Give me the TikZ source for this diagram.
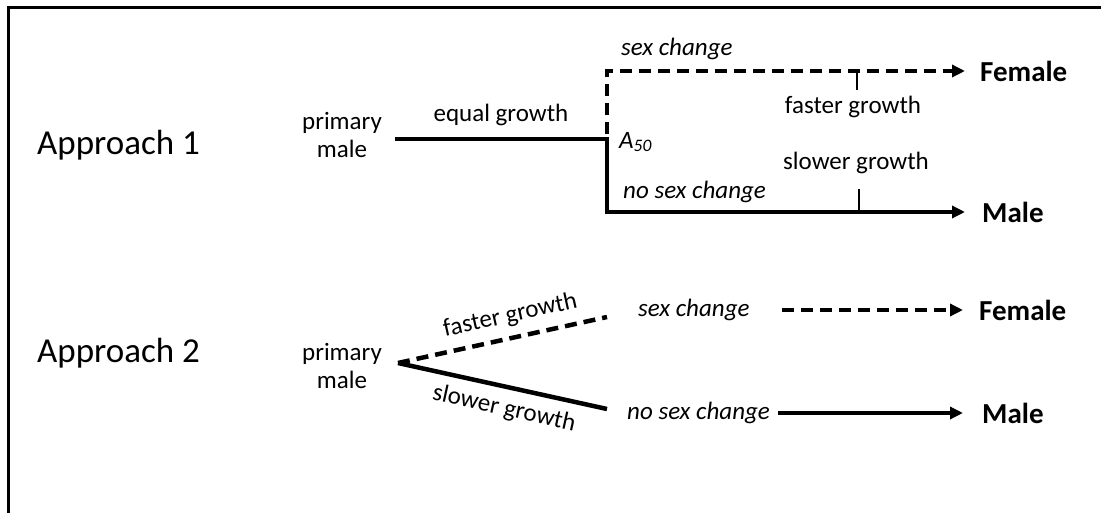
\documentclass[tikz,border=0pt]{standalone}
\usepackage{fontspec}
\setmainfont{Carlito}
\usetikzlibrary{arrows.meta}

\tikzset{
  lbl/.style={font=\fontsize{25}{28}\selectfont, inner sep=0pt},
  lblit/.style={font=\fontsize{25}{28}\selectfont\itshape, inner sep=0pt},
  sexnode/.style={font=\fontsize{29}{34}\selectfont\bfseries, inner sep=0pt, anchor=west},
  appr/.style={font=\fontsize{35}{42}\selectfont, inner sep=0pt, anchor=west},
  solidln/.style={line width=4.5pt},
  dashln/.style={line width=4.5pt, dash pattern=on 12pt off 7pt},
  tickln/.style={line width=1.5pt},
  tip/.style={-{Triangle[length=13pt,width=12pt]}},
}

\begin{document}
\begin{tikzpicture}[x=1pt,y=-1pt]
\useasboundingbox (0,0) rectangle (1101,513);
\draw[line width=3pt] (8,513) -- (8,8) -- (1101,8);

% Approach 1
\node[appr] (ap1) at (37,145) {Approach 1};
\node[lbl, align=center] (pm1) at (342,135) {primary\\male};
\coordinate (s1) at (395,139);
\coordinate (a1) at (607,139);
\coordinate (top1) at (607,71);
\coordinate (bot1) at (607,212);
\node[sexnode] (fem1) at (980,71) {Female};
\node[sexnode] (male1) at (982,212) {Male};
\draw[solidln] (s1) -- node[lbl, above=11pt]{equal growth} (a1);
\draw[dashln,dash phase=14pt,tip] (a1) -- (top1) -- ([xshift=-15pt]fem1.west);
\draw[solidln,tip] ([yshift=2pt]a1) -- (bot1) -- ([xshift=-17pt]male1.west);
\node[lblit, anchor=west] (sc1) at (621,49) {sex change};
\node[lblit, anchor=west] (a50) at (619,142) {A\textsubscript{50}};
\node[lblit, anchor=west] (nsc1) at (623,192) {no sex change};
\coordinate (ft1) at (857,71);
\node[lbl] (fg1) at (853,107) {faster growth};
\draw[tickln] (ft1) -- ([yshift=6pt]ft1 |- fg1.north);
\coordinate (st1) at (859,212);
\node[lbl] (sg1) at (856,163) {slower growth};
\draw[tickln] (st1) -- ([yshift=-15pt]st1 |- sg1.south);

% Approach 2
\node[appr] (ap2) at (37,353) {Approach 2};
\node[lbl, align=center] (pm2) at (342,366) {primary\\male};
\coordinate (s2) at (398,363);
\coordinate (f2) at (607,317);
\coordinate (m2) at (607,409);
\draw[dashln] (s2) -- node[lbl, sloped, above=9pt, pos=0.56]{faster growth} (f2);
\draw[solidln] (s2) -- node[lbl, sloped, below=9pt, pos=0.53]{slower growth} (m2);
\node[lblit, anchor=west] (sc2) at (638,310) {sex change};
\node[lblit, anchor=west] (nsc2) at (627,413) {no sex change};
\node[sexnode] (fem2) at (979,310) {Female};
\node[sexnode] (male2) at (982,413) {Male};
\draw[dashln,tip] ([xshift=32pt]sc2.east) -- ([xshift=-16pt]fem2.west);
\draw[solidln,tip] ([xshift=8pt]nsc2.east) -- ([xshift=-19pt]male2.west);
\end{tikzpicture}
\end{document}
